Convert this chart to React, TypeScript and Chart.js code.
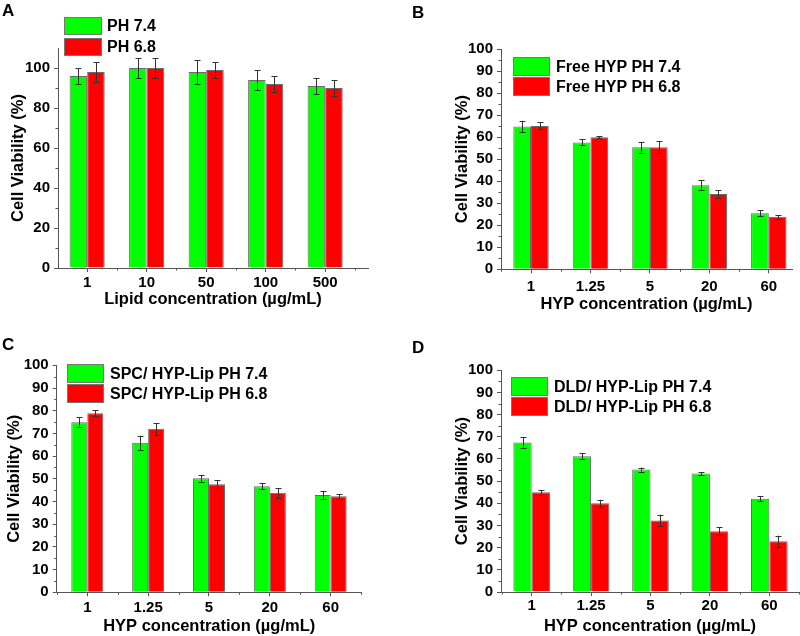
import React, { useEffect, useRef } from 'react';
import { Chart, registerables } from 'chart.js';

Chart.register(...registerables);

// ---------------- data ----------------
const lipidCategories = ['1', '10', '50', '100', '500'];
const hypCategories = ['1', '1.25', '5', '20', '60'];

const ticksA = [0, 20, 40, 60, 80, 100];
const minorTicksA = [10, 30, 50, 70, 90];
const ticksPct = [0, 10, 20, 30, 40, 50, 60, 70, 80, 90, 100];
const minorTicksPct = [5, 15, 25, 35, 45, 55, 65, 75, 85, 95];

const aPH74 = [96, 100, 98, 94, 91];
const aPH74Err = [4, 5, 6, 5, 4];
const aPH68 = [98, 100, 99, 92, 90];
const aPH68Err = [5, 5, 4, 4, 4];

const bPH74 = [64.8, 57.6, 55.4, 38.1, 25.4];
const bPH74Err = [2.6, 1.4, 2.5, 2.3, 1.4];
const bPH68 = [65.1, 59.9, 55.4, 34.2, 23.8];
const bPH68Err = [1.6, 0.4, 2.8, 1.7, 0.9];

const cPH74 = [74.9, 65.9, 50.2, 46.7, 42.9];
const cPH74Err = [2.2, 3.1, 1.6, 1.3, 1.8];
const cPH68 = [78.9, 72.0, 47.6, 43.8, 42.3];
const cPH68Err = [1.2, 2.6, 1.9, 2.1, 1.0];

const dPH74 = [67.4, 61.2, 55.2, 53.4, 42.1];
const dPH74Err = [2.5, 1.3, 0.9, 0.75, 1.05];
const dPH68 = [45.0, 40.0, 32.3, 27.4, 22.9];
const dPH68Err = [1.05, 1.6, 2.6, 1.8, 2.5];

// ---------------- styling ----------------
const FONT = "'Liberation Sans', Arial, Helvetica, sans-serif";
const GREEN = '#00FF00';
const RED = '#FF0000';
const AXIS = '#555555';
const BAR_BORDER = '#6a6a6a';
const ERR = '#333333';

type PanelCfg = {
  letter: string;
  left: number;
  top: number;
  area: { l: number; t: number; r: number; b: number };
  xMin: number;
  xMax: number;
  yMax: number;
  yTicks: number[];
  yMinor: number[];
  cats: string[];
  catPct: number;
  xLabelPad: number;
  xTitle: string;
  xTitlePad: number;
  yTitlePad: number;
  labels: [string, string];
  v74: number[];
  e74: number[];
  v68: number[];
  e68: number[];
  legend: { x: number; y1: number; y2: number; w: number; h: number; tx: number };
  letterPos: { x: number; y: number };
};

const panels: PanelCfg[] = [
  {
    letter: 'A', left: 0, top: 0,
    area: { l: 58, t: 48, r: 368, b: 268 },
    xMin: -0.49, xMax: 4.72, yMax: 110, yTicks: ticksA, yMinor: minorTicksA,
    cats: lipidCategories, catPct: 0.59, xLabelPad: 2,
    xTitle: 'Lipid concentration (µg/mL)', xTitlePad: 9, yTitlePad: 9,
    labels: ['PH 7.4', 'PH 6.8'],
    v74: aPH74, e74: aPH74Err, v68: aPH68, e68: aPH68Err,
    legend: { x: 64, y1: 17, y2: 38, w: 38, h: 18, tx: 107 },
    letterPos: { x: 2, y: 2 },
  },
  {
    letter: 'B', left: 400, top: 0,
    area: { l: 101, t: 49, r: 392, b: 269.3 },
    xMin: -0.505, xMax: 4.39, yMax: 100, yTicks: ticksPct, yMinor: minorTicksPct,
    cats: hypCategories, catPct: 0.596, xLabelPad: 5,
    xTitle: 'HYP concentration (µg/mL)', xTitlePad: 4, yTitlePad: 53,
    labels: ['Free HYP PH 7.4', 'Free HYP PH 6.8'],
    v74: bPH74, e74: bPH74Err, v68: bPH68, e68: bPH68Err,
    legend: { x: 113, y1: 57, y2: 77, w: 37, h: 19, tx: 156 },
    letterPos: { x: 412, y: 4 },
  },
  {
    letter: 'C', left: 0, top: 318,
    area: { l: 56.7, t: 47.3, r: 361.7, b: 274.3 },
    xMin: -0.503, xMax: 4.51, yMax: 100, yTicks: ticksPct, yMinor: minorTicksPct,
    cats: hypCategories, catPct: 0.526, xLabelPad: 3,
    xTitle: 'HYP concentration (µg/mL)', xTitlePad: 0, yTitlePad: 5,
    labels: ['SPC/ HYP-Lip PH 7.4', 'SPC/ HYP-Lip PH 6.8'],
    v74: cPH74, e74: cPH74Err, v68: cPH68, e68: cPH68Err,
    legend: { x: 67, y1: 46, y2: 66, w: 37, h: 19, tx: 110 },
    letterPos: { x: 2, y: 336 },
  },
  {
    letter: 'D', left: 400, top: 318,
    area: { l: 101, t: 52.3, r: 399, b: 274 },
    xMin: -0.516, xMax: 4.5, yMax: 100, yTicks: ticksPct, yMinor: minorTicksPct,
    cats: hypCategories, catPct: 0.616, xLabelPad: 1,
    xTitle: 'HYP concentration (µg/mL)', xTitlePad: 0, yTitlePad: 53,
    labels: ['DLD/ HYP-Lip PH 7.4', 'DLD/ HYP-Lip PH 6.8'],
    v74: dPH74, e74: dPH74Err, v68: dPH68, e68: dPH68Err,
    legend: { x: 111, y1: 59, y2: 79, w: 37, h: 19, tx: 154 },
    letterPos: { x: 412, y: 339 },
  },
];

const W = 400;
const H = 318;

function Panel({ cfg }: { cfg: PanelCfg }) {
  const ref = useRef<HTMLCanvasElement>(null);

  useEffect(() => {
    const canvas = ref.current;
    if (!canvas) return;
    const errs = [cfg.e74, cfg.e68];

    const extras = {
      id: 'extras',
      afterDatasetsDraw(chart: any) {
        const ctx = chart.ctx;
        const ys = chart.scales.y;
        ctx.save();
        ctx.strokeStyle = ERR;
        ctx.lineWidth = 1;
        chart.data.datasets.forEach((ds: any, di: number) => {
          const meta = chart.getDatasetMeta(di);
          meta.data.forEach((el: any, i: number) => {
            const v = ds.data[i].y;
            const e = errs[di][i];
            const x = Math.round(el.x) + 0.5;
            const yHi = ys.getPixelForValue(v + e);
            const yLo = ys.getPixelForValue(v - e);
            ctx.beginPath();
            ctx.moveTo(x, yHi);
            ctx.lineTo(x, yLo);
            ctx.moveTo(x - 3, Math.round(yHi) + 0.5);
            ctx.lineTo(x + 3, Math.round(yHi) + 0.5);
            ctx.moveTo(x - 3, Math.round(yLo) + 0.5);
            ctx.lineTo(x + 3, Math.round(yLo) + 0.5);
            ctx.stroke();
          });
        });
        ctx.restore();
      },
      afterDraw(chart: any) {
        const ctx = chart.ctx;
        const ys = chart.scales.y;
        const xs = chart.scales.x;
        const area = chart.chartArea;
        ctx.save();
        ctx.strokeStyle = AXIS;
        ctx.lineWidth = 1;
        // minor ticks on y axis
        cfg.yMinor.forEach((v) => {
          const y = Math.round(ys.getPixelForValue(v)) + 0.5;
          ctx.beginPath();
          ctx.moveTo(area.left - 2.5, y);
          ctx.lineTo(area.left, y);
          ctx.stroke();
        });
        // minor ticks on x axis (between categories)
        for (let i = -1; i < cfg.cats.length; i++) {
          const v = i + 0.5;
          if (v <= cfg.xMin || v > cfg.xMax) continue;
          const x = Math.round(xs.getPixelForValue(v)) + 0.5;
          ctx.beginPath();
          ctx.moveTo(x, area.bottom);
          ctx.lineTo(x, area.bottom + 2.5);
          ctx.stroke();
        }
        // legend
        const lg = cfg.legend;
        const ys2 = [lg.y1, lg.y2];
        chart.data.datasets.forEach((ds: any, di: number) => {
          const y = ys2[di];
          ctx.fillStyle = ds.backgroundColor;
          ctx.fillRect(lg.x, y, lg.w, lg.h);
          ctx.strokeStyle = '#777777';
          ctx.strokeRect(lg.x + 0.5, y + 0.5, lg.w - 1, lg.h - 1);
          ctx.fillStyle = '#000000';
          ctx.font = `bold 16px ${FONT}`;
          ctx.textBaseline = 'middle';
          ctx.textAlign = 'left';
          ctx.fillText(ds.label, lg.tx, y + lg.h / 2 + 1);
        });
        ctx.restore();
      },
    };

    const chart = new Chart(canvas, {
      type: 'bar',
      data: {
        datasets: [
          {
            label: cfg.labels[0],
            data: cfg.v74.map((v, i) => ({ x: i, y: v })),
            backgroundColor: GREEN,
            borderColor: BAR_BORDER,
            borderWidth: 1,
            barPercentage: 1,
            categoryPercentage: cfg.catPct,
          },
          {
            label: cfg.labels[1],
            data: cfg.v68.map((v, i) => ({ x: i, y: v })),
            backgroundColor: RED,
            borderColor: BAR_BORDER,
            borderWidth: 1,
            barPercentage: 1,
            categoryPercentage: cfg.catPct,
          },
        ],
      },
      options: {
        responsive: false,
        animation: false,
        events: [],
        devicePixelRatio: 1,
        layout: {
          padding: { left: 0, top: cfg.area.t, right: W - cfg.area.r, bottom: 0 },
        },
        plugins: {
          legend: { display: false },
          tooltip: { enabled: false },
          title: { display: false },
        },
        scales: {
          x: {
            type: 'linear',
            min: cfg.xMin,
            max: cfg.xMax,
            offset: false,
            afterBuildTicks: (s: any) => {
              s.ticks = cfg.cats.map((_, i) => ({ value: i }));
            },
            afterFit: (s: any) => {
              s.height = H - cfg.area.b;
            },
            grid: {
              offset: false,
              drawOnChartArea: false,
              drawTicks: true,
              tickLength: 4,
              color: AXIS,
            },
            border: { display: true, color: AXIS, width: 1 },
            ticks: {
              autoSkip: false,
              maxRotation: 0,
              padding: cfg.xLabelPad,
              color: '#000000',
              font: { family: FONT, size: 15, weight: 'bold' },
              callback: (v: any) => cfg.cats[Math.round(Number(v))] ?? '',
            },
            title: {
              display: true,
              text: cfg.xTitle,
              color: '#000000',
              font: { family: FONT, size: 16.5, weight: 'bold' },
              padding: { top: 0, bottom: cfg.xTitlePad },
            },
          },
          y: {
            type: 'linear',
            min: 0,
            max: cfg.yMax,
            afterBuildTicks: (s: any) => {
              s.ticks = cfg.yTicks.map((v) => ({ value: v }));
            },
            afterFit: (s: any) => {
              s.width = cfg.area.l;
            },
            grid: {
              drawOnChartArea: false,
              drawTicks: true,
              tickLength: 4,
              color: AXIS,
            },
            border: { display: true, color: AXIS, width: 1 },
            ticks: {
              padding: 4,
              color: '#000000',
              font: { family: FONT, size: 15, weight: 'bold' },
            },
            title: {
              display: true,
              text: 'Cell Viability (%)',
              color: '#000000',
              font: { family: FONT, size: 16.5, weight: 'bold' },
              padding: { top: cfg.yTitlePad, bottom: 0 },
            },
          },
        },
      } as any,
      plugins: [extras],
    });

    return () => {
      chart.destroy();
    };
  }, [cfg]);

  return (
    <canvas
      ref={ref}
      width={W}
      height={H}
      style={{ position: 'absolute', left: cfg.left, top: cfg.top, width: W, height: H }}
    />
  );
}

export default function App() {
  return (
    <div
      style={{
        position: 'absolute',
        left: 0,
        top: 0,
        width: 800,
        height: 636,
        background: '#ffffff',
        overflow: 'hidden',
      }}
    >
      {panels.map((p) => (
        <Panel key={p.letter} cfg={p} />
      ))}
      {panels.map((p) => (
        <div
          key={'L' + p.letter}
          style={{
            position: 'absolute',
            left: p.letterPos.x,
            top: p.letterPos.y,
            font: `bold 17px ${FONT}`,
            lineHeight: '17px',
            color: '#000000',
          }}
        >
          {p.letter}
        </div>
      ))}
    </div>
  );
}
